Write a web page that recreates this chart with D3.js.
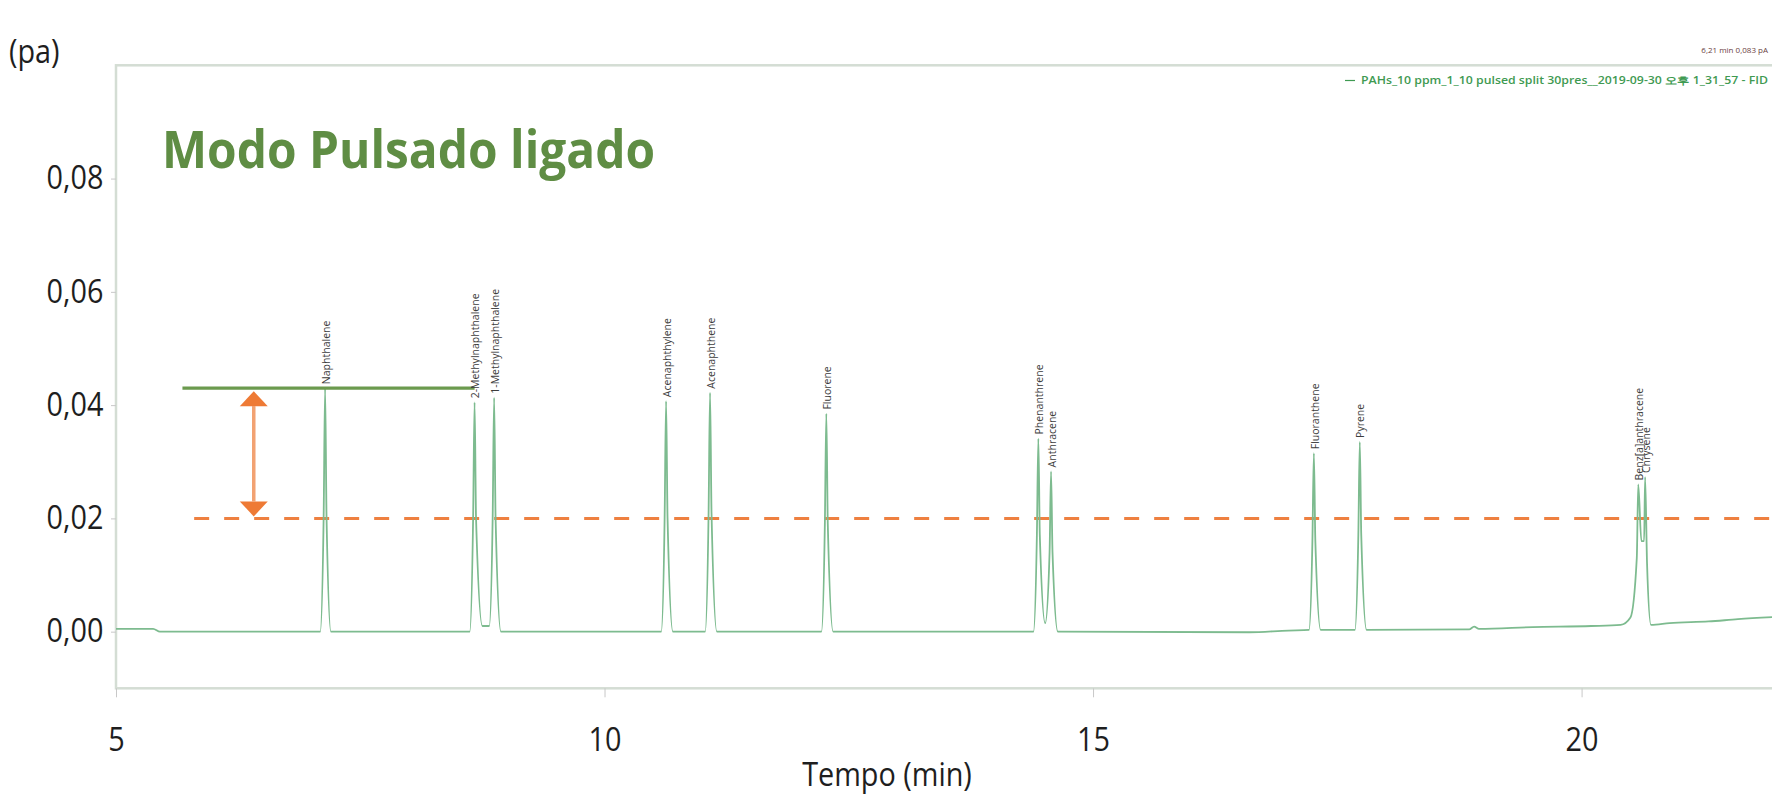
<!DOCTYPE html>
<html>
<head>
<meta charset="utf-8">
<script src="https://cdn.jsdelivr.net/npm/d3@7"></script>
<style>
    body { margin: 0; background: #fff; }
    svg text { font-family: "Open Sans", "Noto Sans", sans-serif; }
</style>
</head>
<body>
<svg id="chart" width="1772" height="798"></svg>
<script>
// data
const peakNames = ['Naphthalene', '2-Methylnaphthalene', '1-Methylnaphthalene', 'Acenaphthylene',
    'Acenaphthene', 'Fluorene', 'Phenanthrene', 'Anthracene', 'Fluoranthene', 'Pyrene',
    'Benz[a]anthracene', 'Chrysene'];
const peakTimes = [7.14, 8.67, 8.87, 10.63, 11.08, 12.27, 14.44, 14.57, 17.26, 17.73, 20.58, 20.65];
const peakHeights = [0.043, 0.0405, 0.0413, 0.0407, 0.0422, 0.0385, 0.0341, 0.0283, 0.0315, 0.0335, 0.026, 0.0273];

// [min, pA]
const trace = [
    [5.00, 0.0005], [5.38, 0.0005], [5.45, 0.0000], [7.09, 0.0000],
    [7.125, 0.020], [7.14, 0.043], [7.155, 0.020], [7.20, 0.0000],
    [8.62, 0.0000], [8.655, 0.020], [8.67, 0.0405], [8.685, 0.020], [8.75, 0.0010],
    [8.82, 0.0010], [8.855, 0.020], [8.87, 0.0413], [8.885, 0.020], [8.94, 0.0000],
    [10.58, 0.0000], [10.615, 0.020], [10.63, 0.0407], [10.645, 0.020], [10.70, 0.0000],
    [11.03, 0.0000], [11.065, 0.021], [11.08, 0.0422], [11.095, 0.021], [11.15, 0.0000],
    [12.22, 0.0000], [12.255, 0.019], [12.27, 0.0385], [12.285, 0.019], [12.34, 0.0000],
    [14.39, 0.0000], [14.425, 0.017], [14.44, 0.0341], [14.455, 0.017], [14.51, 0.0015],
    [14.555, 0.014], [14.57, 0.0283], [14.585, 0.014], [14.64, 0.0000],
    [16.60, -0.0001], [17.00, 0.0002], [17.21, 0.0003],
    [17.245, 0.016], [17.26, 0.0315], [17.275, 0.016], [17.33, 0.0003],
    [17.68, 0.0003], [17.715, 0.017], [17.73, 0.0335], [17.745, 0.017], [17.80, 0.0003],
    [18.85, 0.0004], [18.90, 0.0009], [18.95, 0.0005], [19.50, 0.0008], [20.10, 0.0010],
    [20.40, 0.0012], [20.50, 0.0025], [20.565, 0.013], [20.58, 0.026], [20.612, 0.016],
    [20.64, 0.016], [20.65, 0.0273], [20.67, 0.012], [20.71, 0.0012], [20.90, 0.0015],
    [21.30, 0.0018], [21.60, 0.0022], [22.00, 0.0026]
];

const xTicks = [5, 10, 15, 20];
const yTicks = [0, 0.02, 0.04, 0.06, 0.08];

const refLevel = 0.043;          // naphthalene height
const refRange = [5.68, 8.67];
const thresholdLevel = 0.02;
const thresholdStart = 5.80;
const arrowTime = 6.41;

const title = 'Modo Pulsado ligado';
const cursorText = '6,21 min 0,083 pA';
const legendText = 'PAHs_10 ppm_1_10 pulsed split 30pres__2019-09-30 오후 1_31_57 - FID';

// mise en place
const width = 1772;
const height = 798;
const SQUEEZE = 0.9;   // the reference text is a bit narrow

const x = d3.scaleLinear().domain([5, 22]).range([116, 1777]);
const y = d3.scaleLinear().domain([-0.01, 0.10]).range([688.3, 65.3]);

const svg = d3.select('#chart');

svg.append('defs')
    .append('clipPath')
    .attr('id', 'plot-clip')
    .append('rect')
    .attr('x', x(5))
    .attr('y', y(0.10))
    .attr('width', width - x(5))
    .attr('height', y(-0.01) - y(0.10));

// frame
svg.append('rect')
    .attr('x', x(5))
    .attr('y', y(0.10))
    .attr('width', width)
    .attr('height', y(-0.01) - y(0.10))
    .attr('fill', 'none')
    .attr('stroke', '#d4ddd4')
    .attr('stroke-width', 2.5);

// axes
const yAxis = svg.append('g')
    .attr('transform', `translate(${x(5)},0)`)
    .call(d3.axisLeft(y)
        .tickValues(yTicks)
        .tickSize(5)
        .tickPadding(9)
        .tickFormat(d => d3.format('.2f')(d).replace('.', ',')));

yAxis.select('.domain').remove();
yAxis.selectAll('line').attr('stroke', '#c8c8c8');
yAxis.selectAll('text')
    .attr('font-size', 32)
    .attr('fill', '#1e1e1e')
    .attr('transform', `scale(${SQUEEZE},1)`);

const xAxis = svg.append('g')
    .attr('transform', `translate(0,${y(-0.01)})`)
    .call(d3.axisBottom(x)
        .tickValues(xTicks)
        .tickSize(9)
        .tickFormat(d3.format('d')));

xAxis.select('.domain').remove();
xAxis.selectAll('line').attr('stroke', '#c8c8c8');
xAxis.selectAll('text')
    .attr('y', 40)
    .attr('font-size', 32)
    .attr('fill', '#1e1e1e')
    .attr('transform', `scale(${SQUEEZE},1)`);

svg.append('text')
    .text('Tempo (min)')
    .attr('transform', `translate(887,786) scale(${SQUEEZE},1)`)
    .attr('text-anchor', 'middle')
    .attr('font-size', 32)
    .attr('fill', '#1e1e1e');

svg.append('text')
    .text('(pa)')
    .attr('transform', `translate(9,63) scale(${SQUEEZE},1)`)
    .attr('font-size', 32)
    .attr('fill', '#1e1e1e');

// title
svg.append('text')
    .text(title)
    .attr('transform', `translate(162,168) scale(0.92,1)`)
    .attr('font-size', 52)
    .attr('font-weight', 700)
    .attr('fill', '#5f8d44');

// corner annotations
svg.append('text')
    .text(cursorText)
    .attr('x', 1768)
    .attr('y', 53)
    .attr('text-anchor', 'end')
    .attr('font-size', 8)
    .attr('fill', '#6b4242');

const legend = svg.append('g')
    .attr('transform', 'translate(1768,84)');

legend.append('text')
    .text(legendText)
    .attr('x', -407)
    .attr('textLength', 407)
    .attr('lengthAdjust', 'spacingAndGlyphs')
    .attr('font-size', 10)
    .attr('font-weight', 600)
    .attr('fill', '#3f9a52');

legend.append('line')
    .attr('x1', -423)
    .attr('x2', -413)
    .attr('y1', -3.5)
    .attr('y2', -3.5)
    .attr('stroke', '#3f9a52')
    .attr('stroke-width', 1.2);

const plot = svg.append('g')
    .attr('clip-path', 'url(#plot-clip)');

// threshold (dashed) line
plot.append('line')
    .attr('x1', x(thresholdStart))
    .attr('x2', x(22))
    .attr('y1', y(thresholdLevel))
    .attr('y2', y(thresholdLevel))
    .attr('stroke', '#ee8040')
    .attr('stroke-width', 3)
    .attr('stroke-dasharray', '15,15');

// chromatogram
const line = d3.line()
    .x(d => x(d[0]))
    .y(d => y(d[1]))
    .curve(d3.curveMonotoneX);

plot.append('path')
    .datum(trace)
    .attr('d', line)
    .attr('fill', 'none')
    .attr('stroke', '#7dbb8f')
    .attr('stroke-width', 1.8);

// reference line at naphthalene height
plot.append('line')
    .attr('x1', x(refRange[0]))
    .attr('x2', x(refRange[1]))
    .attr('y1', y(refLevel))
    .attr('y2', y(refLevel))
    .attr('stroke', '#6b9a4e')
    .attr('stroke-width', 3.2);

// double arrow between the two levels
const arrowX = x(arrowTime);
const arrowTop = y(refLevel) + 3;
const arrowBottom = y(thresholdLevel) - 2;
const HEAD = 15;
const HALF = 14;

plot.append('line')
    .attr('x1', arrowX)
    .attr('x2', arrowX)
    .attr('y1', arrowTop + HEAD)
    .attr('y2', arrowBottom - HEAD)
    .attr('stroke', '#f2a272')
    .attr('stroke-width', 3.5);

plot.append('path')
    .attr('d', `M${arrowX},${arrowTop} L${arrowX + HALF},${arrowTop + HEAD} L${arrowX - HALF},${arrowTop + HEAD} Z`)
    .attr('fill', '#ee7a35');

plot.append('path')
    .attr('d', `M${arrowX},${arrowBottom} L${arrowX + HALF},${arrowBottom - HEAD} L${arrowX - HALF},${arrowBottom - HEAD} Z`)
    .attr('fill', '#ee7a35');

// peak names, written upwards above each peak
svg.selectAll('.peak-label')
    .data(peakNames)
    .enter()
    .append('text')
    .attr('class', 'peak-label')
    .text(d => d)
    .attr('transform', (d, i) => `translate(${x(peakTimes[i]) + 1},${y(peakHeights[i]) - 4}) rotate(-90)`)
    .attr('dy', '0.35em')
    .attr('font-size', 10.5)
    .attr('fill', '#3c3c3c');
</script>
</body>
</html>
